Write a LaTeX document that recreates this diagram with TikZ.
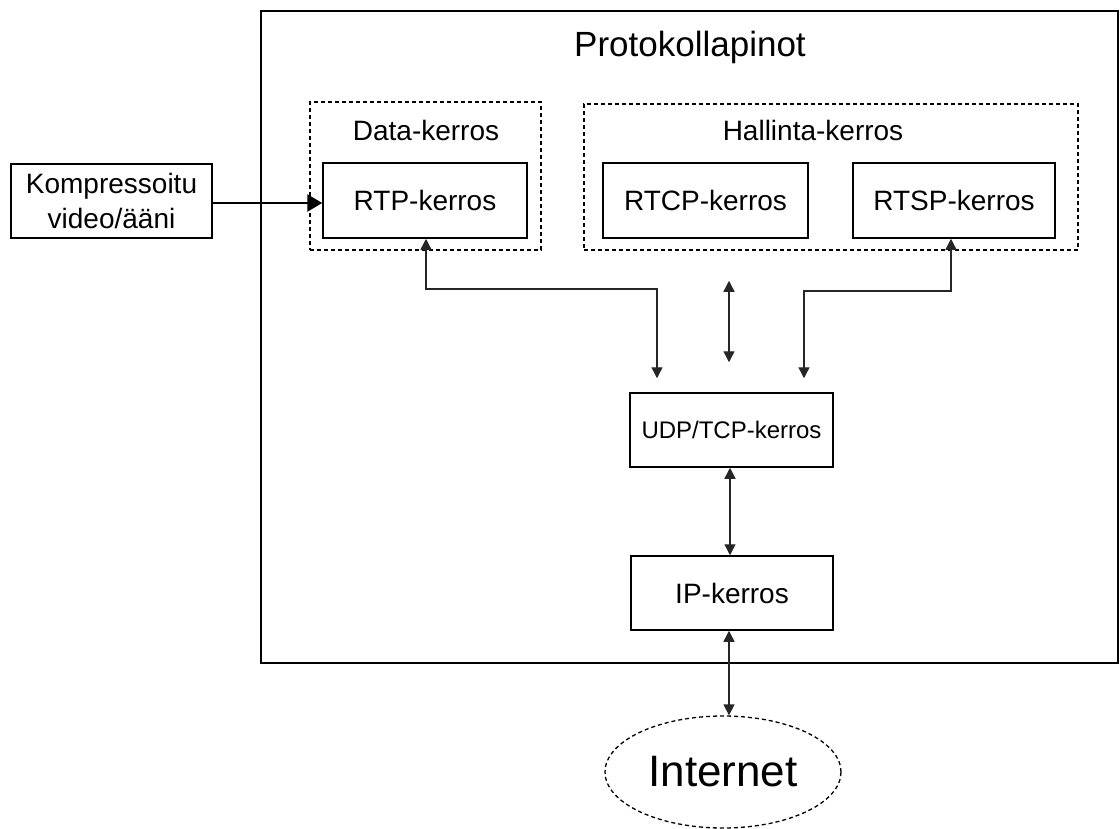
\documentclass[tikz,border=0pt]{standalone}
\usepackage{fontspec}
\setmainfont{Liberation Sans}
\usetikzlibrary{arrows.meta,shapes.geometric,calc}
\begin{document}
\begin{tikzpicture}[x=1pt,y=-1pt,
  box/.style={draw,line width=1.5pt,inner sep=0pt,align=center,font=\fontsize{28}{35}\selectfont},
  dashbox/.style={draw,line width=1.3pt,dash pattern=on 4pt off 3pt,inner sep=0pt},
  lbl/.style={inner sep=0pt,font=\fontsize{28}{34}\selectfont},
  conn/.style={line width=1.4pt,draw=black!85,{Triangle[width=11pt,length=11pt]}-{Triangle[width=11pt,length=11pt]}},
  feed/.style={line width=2.5pt,-{Triangle[width=17pt,length=15pt]}}]
\useasboundingbox (0,0) rectangle (1120,828);
% outer frame
\draw[line width=2pt] (261,11) rectangle (1118,663);
\node[inner sep=0pt,font=\fontsize{35}{40}\selectfont] (title) at (690,47) {Protokollapinot};
% dashed groups
\node[dashbox,minimum width=231pt,minimum height=148pt] (datagrp) at (425.5,176) {};
\node[dashbox,minimum width=494pt,minimum height=146pt] (hallgrp) at (831,177) {};
\node[lbl] (datalbl) at (426,130) {Data-kerros};
\node[lbl] (halllbl) at (813,130) {Hallinta-kerros};
% boxes
\node[box,minimum width=204pt,minimum height=75pt] (rtp) at (425,200.5) {RTP-kerros};
\node[box,minimum width=205pt,minimum height=75pt] (rtcp) at (705.5,200.5) {RTCP-kerros};
\node[box,minimum width=202pt,minimum height=75pt] (rtsp) at (954,200.5) {RTSP-kerros};
\node[box,minimum width=201pt,minimum height=74pt] (komp) at (111.5,201) {Kompressoitu\\video/ääni};
\node[box,minimum width=203pt,minimum height=74pt,font=\fontsize{24}{28}\selectfont] (udp) at (731.5,430) {UDP/TCP-kerros};
\node[box,minimum width=202pt,minimum height=74pt] (ip) at (732,593) {IP-kerros};
\node[draw,ellipse,line width=1.3pt,dash pattern=on 4pt off 3pt,minimum width=236pt,minimum height=112pt,inner sep=0pt,font=\fontsize{44}{50}\selectfont] (inet) at (723,772) {Internet};
% connectors
\draw[feed] (komp.east |- 0,203) -- (rtp.west |- 0,203);
\coordinate (lb) at (657,289);
\coordinate (rb) at (804,291);
\draw[conn,shorten >=14pt] ([xshift=1pt]rtp.south) |- (lb) -- (lb |- udp.north);
\draw[conn,shorten >=14pt] ([xshift=-3pt]rtsp.south) |- (rb) -- (rb |- udp.north);
\draw[conn,shorten <=30pt,shorten >=30pt] (rtcp.south -| udp.north) ++(-2.5,12) coordinate (mt) -- (mt |- udp.north);
\draw[conn] ([xshift=-1.5pt]udp.south) -- ([xshift=-2pt]ip.north);
\draw[conn] ([xshift=-3pt]ip.south) -- ([xshift=6pt]inet.north);
\end{tikzpicture}
\end{document}
